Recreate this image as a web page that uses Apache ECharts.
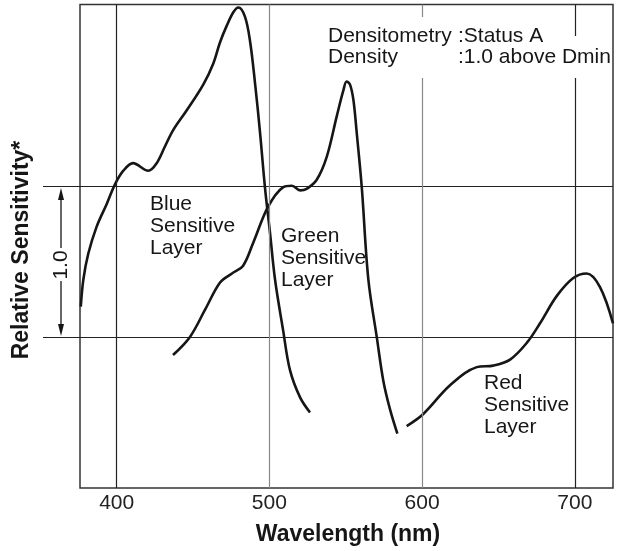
<!DOCTYPE html>
<html><head><meta charset="utf-8">
<script src="https://cdn.jsdelivr.net/npm/echarts@6/dist/echarts.min.js"></script>
<style>html,body{margin:0;padding:0;background:#fff}#c{width:622px;height:551px}</style>
</head><body><div id="c"></div>
<script>
// ---- data (wavelength nm, relative sensitivity in log units) ----
const blueWl  = [376.5,378.2,381.4,386.9,393.5,398.9,404.4,410.7,420.7,426.2,431.6,437.1,445.9,456.7,463.3,467.7,472.1,476.5,479.7,484.0,487.3,490.6,493.9,497.1,500.4,503.7,508.9,513.5,520.1,526.6];
const blueVal = [1.20,1.38,1.55,1.73,1.88,2.01,2.10,2.15,2.10,2.15,2.26,2.37,2.50,2.67,2.81,2.95,3.06,3.15,3.18,3.12,2.96,2.68,2.35,1.99,1.69,1.38,1.05,0.78,0.60,0.50];
const greenWl  = [436.9,448.0,457.9,467.7,475.5,482.7,489.3,499.1,508.9,514.8,520.1,524.4,531.0,537.5,544.1,548.4,550.6,552.8,555.0,557.2,560.5,564.8,570.3,574.6,579.0,583.8];
const greenVal = [0.88,1.00,1.18,1.36,1.42,1.47,1.62,1.86,1.99,2.00,1.97,1.98,2.04,2.19,2.46,2.63,2.69,2.67,2.57,2.35,1.99,1.38,1.00,0.71,0.52,0.36];
const redWl  = [589.9,600.8,618.3,635.8,646.6,657.6,668.5,677.2,688.1,699.0,707.8,716.5,725.0];
const redVal = [0.41,0.49,0.68,0.80,0.81,0.85,0.96,1.09,1.27,1.39,1.42,1.33,1.09];
const xTicks = [400, 500, 600, 700];
const xGridDark = [400, 700];
const xGridLight = [500, 600];
const layerLabels = ['Blue\nSensitive\nLayer', 'Green\nSensitive\nLayer', 'Red\nSensitive\nLayer'];
const noteLeft = ['Densitometry', 'Density'];
const noteRight = [':Status A', ':1.0 above Dmin'];

const FF = '"Liberation Sans", Arial, Helvetica, sans-serif';
const INK = '#161616';
const pairs = (xs, ys) => xs.map((x, i) => [x, ys[i]]);

const chart = echarts.init(document.getElementById('c'), null, {renderer: 'canvas'});
const curve = (name, xs, ys) => ({
  name, type: 'line', data: pairs(xs, ys), smooth: 0.35, symbol: 'none', showSymbol: false,
  lineStyle: {color: INK, width: 2.6}, z: 3, silent: true
});
const txt = (text, x, y, extra) => Object.assign({
  type: 'text', x, y, z: 60, silent: true,
  style: Object.assign({text, fill: INK, font: '21px ' + FF, lineHeight: 22, textVerticalAlign: 'top', textAlign: 'left'}, extra || {})
});

chart.setOption({
  animation: false,
  backgroundColor: '#fff',
  grid: {left: 80, right: 9, top: 4.5, bottom: 63, show: true, borderColor: '#333', borderWidth: 1.5},
  xAxis: {
    type: 'value', min: 376, max: 725,
    axisLine: {show: false}, axisTick: {show: false}, splitLine: {show: false},
    axisLabel: {customValues: xTicks, fontSize: 21, color: '#222', margin: 5, fontFamily: FF}
  },
  yAxis: {
    type: 'value', min: 0, max: 3.2, interval: 1,
    axisLine: {show: false}, axisLabel: {show: false},
    axisTick: {show: true, inside: false, length: 37, customValues: [1, 2], lineStyle: {color: '#222', width: 1.2}},
    splitLine: {show: true, lineStyle: {color: '#222', width: 1.2}}
  },
  series: [
    {
      name: 'grid', type: 'line', data: [], z: 1, silent: true,
      markLine: {
        silent: true, symbol: 'none', label: {show: false}, animation: false,
        data: xGridDark.map(v => ({xAxis: v, lineStyle: {color: '#222', width: 1.2, type: 'solid'}}))
          .concat(xGridLight.map(v => ({xAxis: v, lineStyle: {color: '#888', width: 1.2, type: 'solid'}})))
      }
    },
    curve('Blue', blueWl, blueVal),
    curve('Green', greenWl, greenVal),
    curve('Red', redWl, redVal)
  ],
  graphic: [
    {type: 'rect', z: 50, silent: true, shape: {x: 323, y: 17, width: 226, height: 33}, style: {fill: '#fff'}},
    {type: 'rect', z: 50, silent: true, shape: {x: 323, y: 36, width: 288, height: 42}, style: {fill: '#fff'}},
    txt(noteLeft[0], 328, 25), txt(noteRight[0], 458, 25),
    txt(noteLeft[1], 328, 46), txt(noteRight[1], 458, 46),
    txt(layerLabels[0], 150, 193),
    txt(layerLabels[1], 281, 225),
    txt(layerLabels[2], 484, 372),
    // 1.0 scale arrow
    {type: 'line', z: 60, silent: true, shape: {x1: 61, y1: 198, x2: 61, y2: 248}, style: {stroke: INK, lineWidth: 1.3}},
    {type: 'line', z: 60, silent: true, shape: {x1: 61, y1: 281, x2: 61, y2: 326}, style: {stroke: INK, lineWidth: 1.3}},
    {type: 'polygon', z: 60, silent: true, shape: {points: [[61, 188], [58, 200], [64, 200]]}, style: {fill: INK}},
    {type: 'polygon', z: 60, silent: true, shape: {points: [[61, 336], [58, 324], [64, 324]]}, style: {fill: INK}},
    {type: 'text', z: 60, silent: true, x: 61, y: 265, rotation: Math.PI / 2,
      style: {text: '1.0', fill: INK, font: '21px ' + FF, textAlign: 'center', textVerticalAlign: 'middle'}},
    // axis titles
    {type: 'text', z: 60, silent: true, x: 22, y: 250, rotation: Math.PI / 2,
      style: {text: 'Relative Sensitivity*', fill: INK, font: 'bold 23px ' + FF, textAlign: 'center', textVerticalAlign: 'middle'}},
    {type: 'text', z: 60, silent: true, x: 348, y: 535,
      style: {text: 'Wavelength (nm)', fill: INK, font: 'bold 23px ' + FF, textAlign: 'center', textVerticalAlign: 'middle'}}
  ]
});
</script>
</body></html>
